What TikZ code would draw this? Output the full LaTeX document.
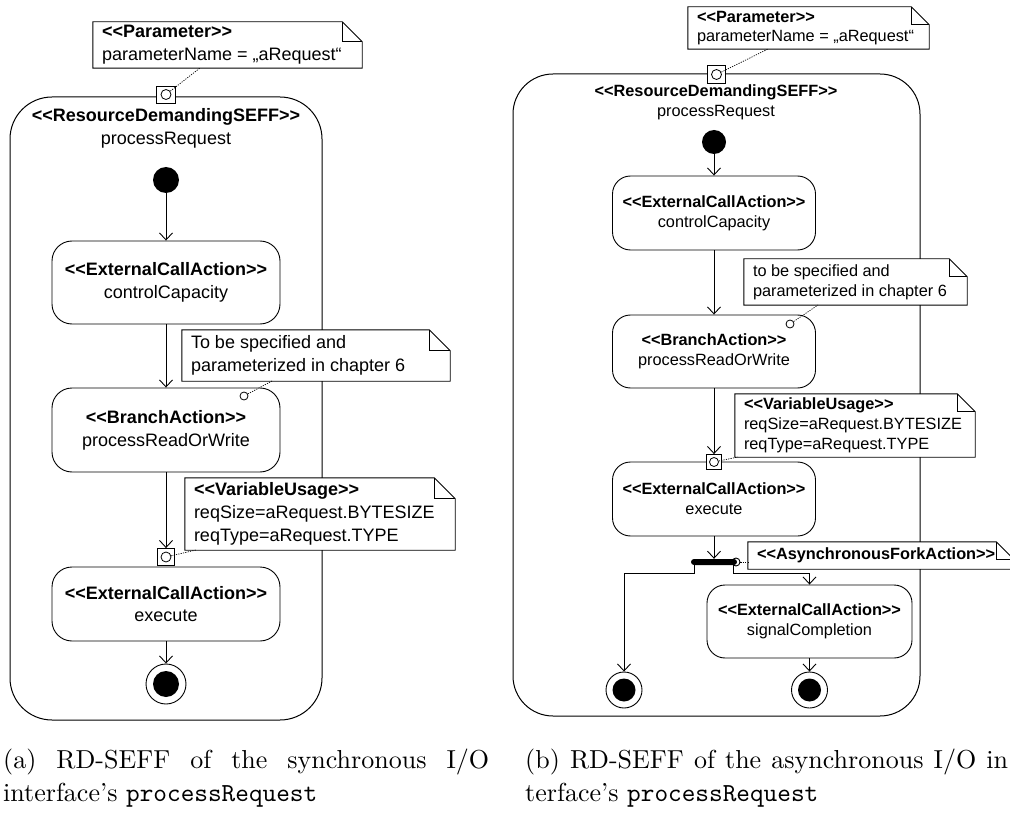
\documentclass[tikz,border=0pt]{standalone}
\usepackage{fontspec}
\newfontfamily\dgfont{Liberation Sans}
% caption fonts: the 10pt design of Latin Modern, scaled up
\newfontfamily\capfont{lmroman10-regular.otf}
\newfontfamily\capmono{lmmono10-regular.otf}
\usetikzlibrary{arrows.meta}

% stereotype brackets, kept apart so no font mapping merges them
\newcommand\stL{<\kern0pt<}
\newcommand\stR{>\kern0pt>}
% diagram fonts: left and right diagram sizes
\newcommand\fL{\dgfont\fontsize{18}{22.8}\selectfont}
\newcommand\fR{\dgfont\fontsize{16.3}{19.8}\selectfont}
\newcommand\fCap{\capfont\fontsize{26}{33}\selectfont}
\newcommand\capcode[1]{{\capmono #1}}

\tikzset{
  flow/.style={line width=0.9pt, -{Straight Barb[length=7pt,width=13pt,line width=0.9pt]}},
  actbox/.style={draw, line width=0.9pt, align=center, inner sep=0pt, fill=white},
  container/.style={draw, line width=1pt, inner sep=0pt},
  notebg/.style={fill=white, inner sep=0pt},
  noteline/.style={line width=0.9pt},
  noteanchor/.style={line width=0.7pt, dash pattern=on 1.2pt off 1.2pt},
  startnode/.style={circle, fill=black, inner sep=0pt},
  endnode/.style={circle, draw, line width=0.9pt, inner sep=0pt, fill=white},
  pinbox/.style={draw, line width=0.8pt, inner sep=0pt, fill=white},
  smallring/.style={circle, draw, line width=0.8pt, inner sep=0pt, fill=white},
  caption/.style={anchor=base west, inner sep=0pt, font=\fCap},
}

% UML note: name, cx, cy, width, height, fold, font, text
\newcommand\notebox[8]{%
  \node[notebg, minimum width=#4pt, minimum height=#5pt] (#1) at (#2,#3) {};
  \draw[noteline] (#1.north west) -- ([xshift=-#6pt]#1.north east)
     -- ([yshift=-#6pt]#1.north east) -- (#1.south east) -- (#1.south west) -- cycle;
  \draw[noteline] ([xshift=-#6pt]#1.north east) |- ([yshift=-#6pt]#1.north east);
  \node[anchor=west, align=left, inner sep=0pt, font=#7] (#1-text) at ([xshift=9pt]#1.west) {#8};
}

\begin{document}
\begin{tikzpicture}[x=1pt, y=-1pt]
\useasboundingbox (0,0) rectangle (1010,813);
\fill[white] (0,0) rectangle (1010,813);
\clip (0,0) rectangle (1010,813);

% ================= (a) synchronous =================
\node[container, rounded corners=42pt, minimum width=312pt, minimum height=623pt] (Lc) at (166,408.5) {};
\node[align=center, inner sep=0pt, font=\fL] (Ltitle) at (166,128.5)
  {\textbf{\stL ResourceDemandingSEFF\stR}\\processRequest};

\node[startnode, minimum size=26pt] (Lstart) at (166,180) {};
\node[actbox, rounded corners=20pt, minimum width=228pt, minimum height=83pt, font=\fL] (Lcc) at (166,282.5)
  {\textbf{\stL ExternalCallAction\stR}\\controlCapacity};
\node[actbox, rounded corners=20pt, minimum width=228pt, minimum height=84pt, font=\fL] (Lbr) at (166,430)
  {\textbf{\stL BranchAction\stR}\\processReadOrWrite};
\node[actbox, rounded corners=20pt, minimum width=228pt, minimum height=74pt, font=\fL] (Lex) at (166,604)
  {\textbf{\stL ExternalCallAction\stR}\\execute};
\node[endnode, minimum size=40pt] (Lend) at (166,684) {};
\fill (Lend.center) circle[radius=13pt];

\node[pinbox, minimum width=19pt, minimum height=17pt] (LpinP) at (166,94.5) {};
\node[smallring, minimum size=10pt] (LpinPc) at (LpinP.center) {};
\node[pinbox, minimum width=17pt, minimum height=17pt] (LpinE) at (166,557) {};
\node[smallring, minimum size=10pt] (LpinEc) at (LpinE.center) {};

\draw[flow] (Lstart) -- (Lcc);
\draw[flow] (Lcc) -- (Lbr);
\draw[flow] (Lbr) -- (LpinE);
\draw[flow] (Lex) -- (Lend);

\notebox{LparN}{227.5}{45}{269}{46}{20}{\fL}{\textbf{\stL Parameter\stR}\\parameterName = „aRequest“}
\notebox{LtbsN}{316}{355.5}{268}{51}{21}{\fL}{To be specified and\\parameterized in chapter 6}
\notebox{LvarN}{320}{514}{270}{72}{21}{\fL}{\textbf{\stL VariableUsage\stR}\\reqSize=aRequest.BYTESIZE\\reqType=aRequest.TYPE}

\node[smallring, minimum size=8pt] (LbrC) at (244,396) {};
\coordinate (LaP) at (200,68);
\coordinate (LaB) at (272,381);
\coordinate (LaV) at (196,550);
\draw[noteanchor] (LpinPc) -- (LaP);
\draw[noteanchor] (LbrC) -- (LaB);
\draw[noteanchor] (LpinEc) -- (LaV);

% ================= (b) asynchronous =================
\node[container, rounded corners=40pt, minimum width=407pt, minimum height=642pt] (Rc) at (716.5,395) {};
\node[align=center, inner sep=0pt, font=\fR] (Rtitle) at (716,102)
  {\textbf{\stL ResourceDemandingSEFF\stR}\\processRequest};

\node[startnode, minimum size=24pt] (Rstart) at (714,142) {};
\node[actbox, rounded corners=18pt, minimum width=203pt, minimum height=74pt, font=\fR] (Rcc) at (714,213)
  {\textbf{\stL ExternalCallAction\stR}\\controlCapacity};
\node[actbox, rounded corners=18pt, minimum width=203pt, minimum height=73pt, font=\fR] (Rbr) at (714,351.5)
  {\textbf{\stL BranchAction\stR}\\processReadOrWrite};
\node[actbox, rounded corners=18pt, minimum width=203pt, minimum height=74pt, font=\fR] (Rex) at (714,499)
  {\textbf{\stL ExternalCallAction\stR}\\execute};
\node[actbox, rounded corners=18pt, minimum width=205pt, minimum height=73pt, font=\fR] (Rsig) at (809.5,621.5)
  {\textbf{\stL ExternalCallAction\stR}\\signalCompletion};
\node[endnode, minimum size=36pt] (Rend1) at (624,690) {};
\fill (Rend1.center) circle[radius=11.5pt];
\node[endnode, minimum size=36pt] (Rend2) at (809.5,690) {};
\fill (Rend2.center) circle[radius=11.5pt];

\node[pinbox, minimum size=18pt] (RpinP) at (716.5,74.5) {};
\node[smallring, minimum size=10pt] (RpinPc) at (RpinP.center) {};
\node[pinbox, minimum size=15pt] (RpinE) at (714,462) {};
\node[smallring, minimum size=9pt] (RpinEc) at (RpinE.center) {};

% fork bar with its two outgoing flows
\node[fill=black, rounded corners=3pt, minimum width=46pt, minimum height=6pt, inner sep=0pt] (Rfork) at (714,562) {};

\draw[flow] (Rstart) -- (Rcc);
\draw[flow] (Rcc) -- (Rbr);
\draw[flow] (Rbr) -- (RpinE);
\draw[flow] (Rex) -- (Rfork);
\draw[flow] ([xshift=4pt]Rfork.south west) -- ++(0,8) -| (Rend1);
\draw[flow] ([xshift=-4pt]Rfork.south east) -- ++(0,8) -| (Rsig);
\draw[flow] (Rsig) -- (Rend2);

\notebox{RparN}{808.5}{28}{241}{42}{18}{\fR}{\textbf{\stL Parameter\stR}\\parameterName = „aRequest“}
\notebox{RtbsN}{855.5}{282}{223}{46}{18}{\fR}{to be specified and\\parameterized in chapter 6}
\notebox{RvarN}{855}{425.5}{240}{63}{18}{\fR}{\textbf{\stL VariableUsage\stR}\\reqSize=aRequest.BYTESIZE\\reqType=aRequest.TYPE}
\notebox{RasyN}{881}{555.5}{266}{27}{18}{\fR}{\textbf{\stL AsynchronousForkAction\stR}}

\node[smallring, minimum size=8pt] (RbrC) at (790,324) {};
\node[circle, draw, line width=0.9pt, inner sep=0pt, minimum size=8pt] (RforkC) at (736,562) {};
\coordinate (RaP) at (768,49);
\coordinate (RaB) at (818,305);
\coordinate (RaV) at (738,457);
\draw[noteanchor] (RpinPc) -- (RaP);
\draw[noteanchor] (RbrC) -- (RaB);
\draw[noteanchor] (RpinEc) -- (RaV);
\draw[noteanchor] (RforkC) -- (RforkC -| RasyN.west);

% ================= captions =================
\node[caption] (capA1) at (3,768)
  {\makebox[486pt][s]{(a) RD-SEFF of the synchronous I/O}};
\node[caption] (capA2) at (3,801)
  {interface’s \capcode{processRequest}};
\node[caption] (capB1) at (525,768)
  {\makebox[483pt][s]{(b) RD-SEFF of the asynchronous I/O in}};
\node[caption] (capB2) at (525,801)
  {terface’s \capcode{processRequest}};
\end{tikzpicture}
\end{document}
